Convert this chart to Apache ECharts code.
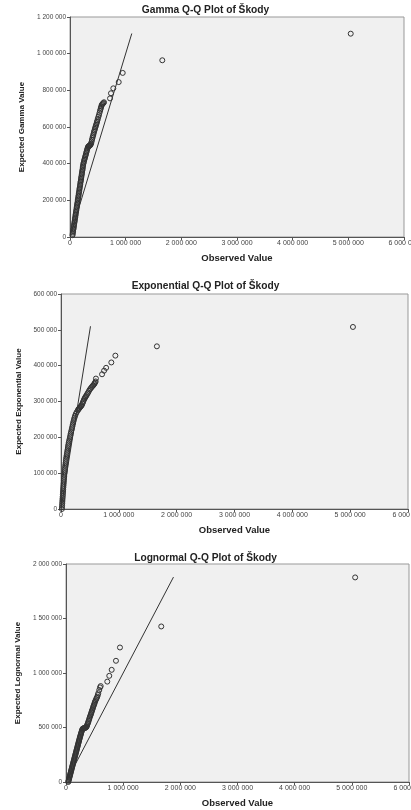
<!DOCTYPE html>
<html>
<head>
<meta charset="utf-8">
<script src="https://cdn.jsdelivr.net/npm/echarts@6/dist/echarts.min.js"></script>
<style>
html, body { margin: 0; padding: 0; background: #fff; }
#main { width: 411px; height: 810px; }
</style>
</head>
<body>
<div id="main"></div>
<script>
// 数据 [observed, expected]，单位：千
const gammaPoints = [
    [45, 10], [49, 17], [53, 25], [56, 32], [59, 40], [64, 47], [68, 55], [71, 62], [74, 70], [79, 77],
    [83, 85], [86, 92], [89, 100], [94, 107], [98, 115], [101, 122], [104, 130], [109, 137], [113, 145], [116, 152],
    [120, 160], [124, 167], [127, 175], [131, 182], [136, 190], [139, 197], [142, 205], [146, 212], [151, 220], [154, 227],
    [157, 235], [161, 242], [166, 250], [169, 257], [172, 265], [176, 272], [181, 280], [184, 287], [187, 295], [191, 302],
    [196, 310], [199, 317], [202, 325], [206, 332], [211, 340], [214, 347], [217, 355], [221, 362], [226, 370], [229, 377],
    [232, 385], [236, 392], [241, 400], [247, 407], [253, 415], [259, 422], [266, 430], [273, 437], [280, 445], [286, 452],
    [293, 460], [299, 467], [306, 475], [313, 482], [320, 490],
    [328, 492], [335, 495], [343, 497], [350, 498], [358, 500], [365, 502], [372, 506], [380, 510],
    [388, 520], [395, 530], [402, 539], [410, 548], [418, 556], [425, 565], [432, 574], [440, 582], [448, 590], [455, 598],
    [462, 605], [470, 612], [478, 620], [485, 628], [492, 636], [500, 645], [510, 655], [520, 665], [530, 677], [540, 688],
    [548, 697], [555, 705], [562, 712], [569, 720], [580, 724], [590, 728], [600, 731], [611, 735],
    [719, 756], [736, 784], [778, 811], [875, 845], [947, 895], [1658, 964], [5043, 1109]
]
const gammaLine = [[30, 30], [1110, 1110]]

const expPoints = [
    [15, 0], [17, 5], [19, 10], [21, 15], [23, 20], [25, 25], [27, 30], [30, 35], [32, 40], [34, 45],
    [36, 50], [38, 55], [40, 60], [43, 65], [45, 70], [48, 75], [50, 80], [52, 85], [55, 90], [57, 95],
    [60, 100], [63, 105], [67, 110], [70, 115], [74, 120], [77, 125], [81, 130], [85, 135], [88, 140], [93, 145],
    [98, 150], [103, 155], [108, 160], [113, 165], [118, 170], [122, 175], [128, 180], [134, 185], [141, 190], [148, 195],
    [155, 200], [161, 205], [167, 210], [175, 215], [182, 220], [189, 225], [196, 230], [203, 235], [210, 240], [217, 245],
    [225, 250], [234, 255], [243, 260], [255, 265], [270, 270], [290, 275],
    [300, 278], [310, 280], [320, 282], [330, 284], [340, 286], [350, 288], [360, 290], [370, 294], [380, 298], [390, 302],
    [400, 306], [410, 309], [420, 312], [432, 315], [444, 318], [457, 322], [470, 325], [485, 330], [500, 334], [515, 337],
    [530, 340], [544, 343], [558, 345], [570, 348], [580, 350], [590, 353], [599, 356], [604, 364],
    [710, 376], [745, 386], [780, 394], [870, 409], [940, 428], [1658, 454], [5048, 508]
]
const expLine = [[5, 5], [510, 510]]

const lognormalPoints = [
    [40, 0], [44, 9], [48, 18], [53, 27], [57, 36], [62, 45], [66, 54], [71, 63], [75, 72], [79, 81],
    [84, 90], [88, 99], [93, 108], [97, 117], [102, 126], [106, 135], [111, 144], [115, 153], [120, 162], [124, 171],
    [129, 180], [133, 189], [138, 198], [142, 207], [147, 216], [151, 225], [156, 234], [160, 243], [165, 252], [169, 261],
    [174, 270], [178, 279], [183, 288], [187, 297], [192, 306], [196, 315], [201, 324], [205, 333], [210, 342], [214, 351],
    [219, 360], [223, 369], [228, 378], [232, 387], [237, 396], [241, 405], [246, 414], [251, 423], [256, 432], [261, 441],
    [266, 450], [271, 459], [276, 468], [282, 477], [288, 486],
    [297, 490], [305, 492], [312, 493], [320, 494], [328, 496], [335, 497], [343, 499], [350, 502], [356, 505], [362, 510],
    [368, 520], [375, 530], [382, 540], [390, 550], [397, 562], [405, 575], [412, 588], [420, 600], [428, 611], [435, 622],
    [442, 633], [449, 644], [455, 655], [462, 665], [470, 678], [477, 690], [485, 701], [492, 712], [500, 724], [507, 736],
    [517, 748], [527, 760], [537, 771], [547, 782], [556, 798], [565, 815], [582, 844], [595, 868], [607, 880],
    [722, 921], [757, 974], [799, 1029], [874, 1112], [944, 1234], [1666, 1427], [5058, 1877]
]
const lognormalLine = [[20, 20], [1880, 1880]]

const titles = ['Gamma Q-Q Plot of Škody', 'Exponential Q-Q Plot of Škody', 'Lognormal Q-Q Plot of Škody']
const yNames = ['Expected Gamma Value', 'Expected Exponential Value', 'Expected Lognormal Value']
const yMax = [1200000, 600000, 2000000]
const yStep = [200000, 100000, 500000]

const FONT = 'Liberation Sans, Arial, sans-serif'

function fmt(v) {
    return String(v).replace(/\B(?=(\d{3})+(?!\d))/g, ' ')
}
function toUnits(arr) {
    return arr.map(p => [p[0] * 1000, p[1] * 1000])
}

const grids = [
    { left: 70, top: 17, right: 7, height: 220 },
    { left: 61, top: 294, right: 3, height: 215 },
    { left: 66, top: 564, right: 2, height: 218 }
]
const titleTops = [0, 276, 548]
const yNameGaps = [44, 38, 44]

const axisCommon = {
    axisLine: { show: true, lineStyle: { color: '#555', width: 1 } },
    axisTick: { show: true, length: 3, lineStyle: { color: '#555' } },
    splitLine: { show: false },
    nameLocation: 'middle'
}

const myChart = echarts.init(document.querySelector('#main'), null, { renderer: 'canvas' })

const pointSets = [gammaPoints, expPoints, lognormalPoints]
const lineSets = [gammaLine, expLine, lognormalLine]

const option = {
    backgroundColor: '#fff',
    animation: false,
    title: titles.map((t, i) => ({
        text: t,
        left: 'center',
        top: titleTops[i],
        textStyle: { fontFamily: FONT, fontWeight: 'bold', fontSize: 10.2, color: '#222' }
    })),
    grid: grids.map(g => Object.assign({
        show: true,
        containLabel: false,
        outerBoundsMode: 'none',
        backgroundColor: '#f0f0f0',
        borderColor: '#999',
        borderWidth: 1
    }, g)),
    xAxis: grids.map((g, i) => Object.assign({}, axisCommon, {
        type: 'value',
        gridIndex: i,
        min: 0,
        max: 6000000,
        interval: 1000000,
        name: 'Observed Value',
        nameGap: 16,
        nameTextStyle: { fontFamily: FONT, fontWeight: 'bold', fontSize: 9.5, color: '#222' },
        axisLabel: { formatter: fmt, fontFamily: FONT, fontSize: 7, color: '#444', margin: 3 }
    })),
    yAxis: grids.map((g, i) => Object.assign({}, axisCommon, {
        type: 'value',
        gridIndex: i,
        min: 0,
        max: yMax[i],
        interval: yStep[i],
        name: yNames[i],
        nameGap: yNameGaps[i],
        nameTextStyle: { fontFamily: FONT, fontWeight: 'bold', fontSize: 8, color: '#222' },
        axisLabel: { formatter: fmt, fontFamily: FONT, fontSize: 6.5, color: '#444', margin: 4 }
    })),
    series: []
}

pointSets.forEach((pts, i) => {
    // 参考线
    option.series.push({
        type: 'line',
        xAxisIndex: i,
        yAxisIndex: i,
        data: toUnits(lineSets[i]),
        symbol: 'none',
        lineStyle: { color: '#333', width: 1 },
        silent: true
    })
    // 散点
    option.series.push({
        type: 'scatter',
        xAxisIndex: i,
        yAxisIndex: i,
        data: toUnits(pts),
        symbol: 'circle',
        symbolSize: 5,
        itemStyle: { color: 'rgba(0,0,0,0)', borderColor: '#333', borderWidth: 1, opacity: 1 }
    })
})

myChart.setOption(option)
window.addEventListener('resize', function () {
    myChart.resize()
})
</script>
</body>
</html>
